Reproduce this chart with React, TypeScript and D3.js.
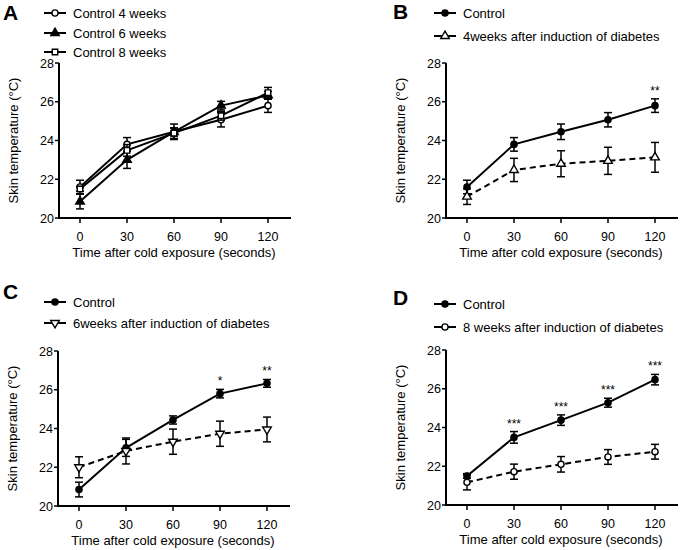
import React from 'react';
import * as d3 from 'd3';

const times = [0, 30, 60, 90, 120];
const yTicks = [20, 22, 24, 26, 28];
const panelLetters = ['A', 'B', 'C', 'D'];
const xTitle = 'Time after cold exposure (seconds)';
const yTitle = 'Skin temperature (°C)';

const ctrl4Mean = [21.6, 23.8, 24.45, 25.07, 25.8];
const ctrl4Sem = [0.35, 0.35, 0.4, 0.37, 0.35];
const ctrl6Mean = [20.85, 23.0, 24.44, 25.8, 26.33];
const ctrl6Sem = [0.38, 0.44, 0.21, 0.22, 0.2];
const ctrl8Mean = [21.5, 23.49, 24.38, 25.28, 26.47];
const ctrl8Sem = [0.12, 0.3, 0.27, 0.23, 0.27];
const diab4Mean = [21.1, 22.48, 22.8, 22.95, 23.13];
const diab4Sem = [0.4, 0.6, 0.67, 0.7, 0.77];
const diab6Mean = [22.0, 22.84, 23.32, 23.73, 23.95];
const diab6Sem = [0.54, 0.67, 0.65, 0.65, 0.64];
const diab8Mean = [21.17, 21.72, 22.1, 22.48, 22.75];
const diab8Sem = [0.39, 0.39, 0.4, 0.38, 0.38];

const starsB = ['', '', '', '', '**'];
const starsC = ['', '', '', '*', '**'];
const starsD = ['', '***', '***', '***', '***'];

type Series = {
  name: string;
  mean: number[];
  sem: number[];
  marker: 'circle' | 'triangle' | 'triangleDown' | 'square';
  filled: boolean;
  dashed: boolean;
};

const W = 232;
const H = 155;
const FONT = 'Arial, "Liberation Sans", Helvetica, sans-serif';

function Marker({ type, filled, x, y }: { type: string; filled: boolean; x: number; y: number }) {
  let sym: any = d3.symbolCircle;
  let size = 30;
  let rot = 0;
  if (type === 'triangle') { sym = d3.symbolTriangle; size = 32; }
  if (type === 'triangleDown') { sym = d3.symbolTriangle; size = 32; rot = 180; }
  if (type === 'square') { sym = d3.symbolSquare; size = 30; }
  const path = d3.symbol().type(sym).size(size)() as string;
  return (
    <path
      d={path}
      transform={`translate(${x},${y}) rotate(${rot})`}
      fill={filled ? '#000' : '#fff'}
      stroke="#000"
      strokeWidth={1.4}
    />
  );
}

function Panel({
  tx, ty, letter, letterPos, legendPos, series, stars,
}: {
  tx: number; ty: number; letter: string; letterPos: [number, number];
  legendPos: [number, number][]; series: Series[]; stars?: string[];
}) {
  const x = d3.scaleLinear().domain([0, 120]).range([21, 209]);
  const y = d3.scaleLinear().domain([20, 28]).range([H, 0]);
  const line = d3.line<number>().x((_, i) => x(times[i])).y((d) => y(d));
  return (
    <g>
      <text x={letterPos[0]} y={letterPos[1]} fontFamily={FONT} fontWeight="bold" fontSize={21}>{letter}</text>
      {series.map((s, i) => (
        <g key={'lg' + i} transform={`translate(${tx + legendPos[i][0]},${ty + legendPos[i][1]})`}>
          <line x1={0} x2={22} y1={0} y2={0} stroke="#000" strokeWidth={2} />
          <Marker type={s.marker} filled={s.filled} x={11} y={0} />
          <text x={29} y={4.5} fontFamily={FONT} fontSize={13}>{s.name}</text>
        </g>
      ))}
      <g transform={`translate(${tx},${ty})`}>
        <line x1={0} x2={0} y1={0} y2={H} stroke="#000" strokeWidth={2} />
        <line x1={-1} x2={W} y1={H} y2={H} stroke="#000" strokeWidth={2} />
        {yTicks.map((t) => (
          <g key={'y' + t}>
            <line x1={-4} x2={0} y1={y(t)} y2={y(t)} stroke="#000" strokeWidth={1.5} />
            <text x={-5} y={y(t) + 4.5} textAnchor="end" fontFamily={FONT} fontSize={12.5}>{t}</text>
          </g>
        ))}
        {times.map((t) => (
          <g key={'x' + t}>
            <line x1={x(t)} x2={x(t)} y1={H} y2={H + 5} stroke="#000" strokeWidth={1.5} />
            <text x={x(t)} y={H + 23} textAnchor="middle" fontFamily={FONT} fontSize={12.5}>{t}</text>
          </g>
        ))}
        <text x={x(60)} y={H + 39} textAnchor="middle" fontFamily={FONT} fontSize={13}>{xTitle}</text>
        <text transform={`translate(${-41},${H / 2}) rotate(-90)`} textAnchor="middle" fontFamily={FONT} fontSize={13}>{yTitle}</text>
        {series.map((s, si) => (
          <g key={'s' + si}>
            <path d={line(s.mean) as string} fill="none" stroke="#000" strokeWidth={2} strokeDasharray={s.dashed ? '6,4' : undefined} />
            {s.mean.map((m, i) => (
              <g key={'e' + i}>
                <line x1={x(times[i])} x2={x(times[i])} y1={y(m - s.sem[i])} y2={y(m + s.sem[i])} stroke="#000" strokeWidth={1.5} />
                <line x1={x(times[i]) - 4} x2={x(times[i]) + 4} y1={y(m - s.sem[i])} y2={y(m - s.sem[i])} stroke="#000" strokeWidth={1.5} />
                <line x1={x(times[i]) - 4} x2={x(times[i]) + 4} y1={y(m + s.sem[i])} y2={y(m + s.sem[i])} stroke="#000" strokeWidth={1.5} />
              </g>
            ))}
            {s.mean.map((m, i) => (
              <Marker key={'m' + i} type={s.marker} filled={s.filled} x={x(times[i])} y={y(m)} />
            ))}
          </g>
        ))}
        {stars && stars.map((st, i) => {
          if (!st) return null;
          const top = Math.max(...series.map((s) => s.mean[i] + s.sem[i]));
          return (
            <text key={'st' + i} x={x(times[i])} y={y(top) - 4} textAnchor="middle" fontFamily={FONT} fontSize={12}>{st}</text>
          );
        })}
      </g>
    </g>
  );
}

export default function App() {
  const ctrl4: Series = { name: 'Control 4 weeks', mean: ctrl4Mean, sem: ctrl4Sem, marker: 'circle', filled: false, dashed: false };
  const ctrl6: Series = { name: 'Control 6 weeks', mean: ctrl6Mean, sem: ctrl6Sem, marker: 'triangle', filled: true, dashed: false };
  const ctrl8: Series = { name: 'Control 8 weeks', mean: ctrl8Mean, sem: ctrl8Sem, marker: 'square', filled: false, dashed: false };
  return (
    <svg width={682} height={550} style={{ position: 'absolute', left: 0, top: 0, background: '#fff' }}>
      <rect width={682} height={550} fill="#fff" />
      <Panel tx={59} ty={63} letter={panelLetters[0]} letterPos={[3, 20]}
        legendPos={[[-15, -50], [-15, -30], [-15, -11]]}
        series={[ctrl4, ctrl6, ctrl8]} />
      <Panel tx={446} ty={63} letter={panelLetters[1]} letterPos={[393, 19]}
        legendPos={[[-12, -50], [-12, -27]]}
        series={[
          { name: 'Control', mean: ctrl4Mean, sem: ctrl4Sem, marker: 'circle', filled: true, dashed: false },
          { name: '4weeks after induction of diabetes', mean: diab4Mean, sem: diab4Sem, marker: 'triangle', filled: false, dashed: true },
        ]}
        stars={starsB} />
      <Panel tx={58} ty={351} letter={panelLetters[2]} letterPos={[3, 299]}
        legendPos={[[-14, -49], [-14, -28]]}
        series={[
          { name: 'Control', mean: ctrl6Mean, sem: ctrl6Sem, marker: 'circle', filled: true, dashed: false },
          { name: '6weeks after induction of diabetes', mean: diab6Mean, sem: diab6Sem, marker: 'triangleDown', filled: false, dashed: true },
        ]}
        stars={starsC} />
      <Panel tx={446} ty={350} letter={panelLetters[3]} letterPos={[393, 305]}
        legendPos={[[-12, -46], [-12, -23]]}
        series={[
          { name: 'Control', mean: ctrl8Mean, sem: ctrl8Sem, marker: 'circle', filled: true, dashed: false },
          { name: '8 weeks after induction of diabetes', mean: diab8Mean, sem: diab8Sem, marker: 'circle', filled: false, dashed: true },
        ]}
        stars={starsD} />
    </svg>
  );
}
